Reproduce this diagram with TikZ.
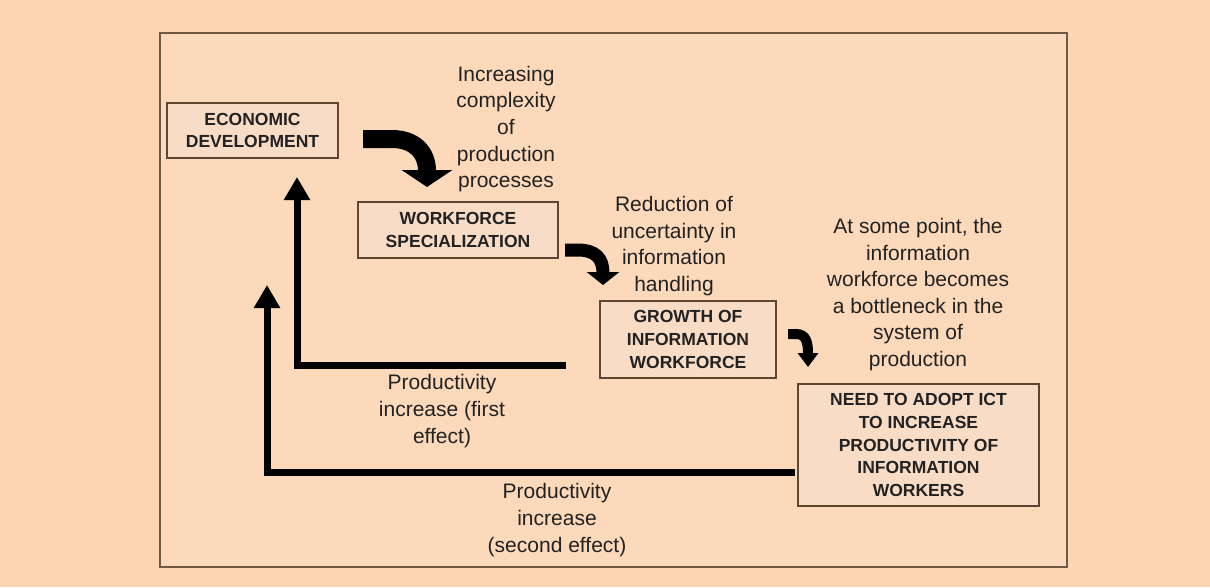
\documentclass[tikz,border=0pt]{standalone}
\usepackage{fontspec}
\setmainfont{Liberation Sans}
\usetikzlibrary{arrows.meta}
\definecolor{bgpeach}{HTML}{FCD6B2}
\definecolor{innerpeach}{HTML}{FBD9BA}
\definecolor{boxfill}{HTML}{F9DCC6}
\definecolor{framebrown}{HTML}{6E5A44}
\definecolor{boxbrown}{HTML}{5E4732}
\definecolor{inkdark}{HTML}{222222}
\tikzset{
  stagebox/.style={draw=boxbrown, line width=1.8pt, fill=boxfill, align=center,
    text=inkdark, font=\bfseries\fontsize{17.5}{22.8}\selectfont, inner sep=0pt},
  note/.style={align=center, text=inkdark, font=\fontsize{21}{26.6}\selectfont, inner sep=0pt},
  loopline/.style={draw=black, line width=7pt, line cap=butt, line join=miter,
    -{Triangle[width=25pt,length=23pt]}},
}
\begin{document}
\begin{tikzpicture}[x=1pt,y=-1pt]
  \fill[bgpeach] (0,0) rectangle (1210,587);
  \useasboundingbox (0,0) rectangle (1210,587);
  % outer frame
  \draw[framebrown, line width=2pt, fill=innerpeach] (160,33) rectangle (1067,567);

  % stages
  \node[stagebox, minimum width=171pt, minimum height=55pt] (econ) at (252.5,130.5)
    {ECONOMIC\\DEVELOPMENT};
  \node[stagebox, minimum width=200pt, minimum height=56pt] (spec) at (458,230)
    {WORKFORCE\\SPECIALIZATION};
  \node[stagebox, minimum width=176pt, minimum height=77pt] (growth) at (688,339.5)
    {GROWTH OF\\INFORMATION\\WORKFORCE};
  \node[stagebox, minimum width=241pt, minimum height=122pt] (need) at (918.5,445)
    {NEED TO ADOPT ICT\\TO INCREASE\\PRODUCTIVITY OF\\INFORMATION\\WORKERS};

  % explanatory notes
  \node[note] (n1) at (506,129) {Increasing\\complexity\\of\\production\\processes};
  \node[note] (n2) at (674,246) {Reduction of\\uncertainty in\\information\\handling};
  \node[note] (n3) at (918,294.5) {At some point, the\\information\\workforce becomes\\a bottleneck in the\\system of\\production};
  \node[note] (n4) at (442,411) {Productivity\\increase (first\\effect)};
  \node[note] (n5) at (557,520) {Productivity\\increase\\(second effect)};

  % end points of the bent arrows
  \coordinate (a1s) at (363,139);
  \coordinate (a1e) at (427,187);
  \coordinate (a2s) at (565,250);
  \coordinate (a2e) at (603,285);
  \coordinate (a3s) at (788,334);
  \coordinate (a3e) at (808,367);
  % feedback loops
  \coordinate (f1s) at (566,365);
  \coordinate (f1e) at (297,177);
  \coordinate (f2s) at (795,472);
  \coordinate (f2e) at (267,285);

  \draw[black, line width=18pt, line cap=butt, -{Triangle[width=50pt,length=17pt]}]
    (a1s) -- ++(29,0) .. controls +(22,0) and (427,152) .. (a1e);
  \draw[black, line width=13pt, line cap=butt, -{Triangle[width=32pt,length=13pt]}]
    (a2s) -- ++(13,0) .. controls +(17,0) and (603,258) .. (a2e);
  \draw[black, line width=10pt, line cap=butt, -{Triangle[width=20pt,length=14pt]}]
    (a3s) -- ++(8,0) .. controls +(10,0) and (808,342) .. (a3e);

  \draw[loopline] (f1s) -| (f1e);
  \draw[loopline] (f2s) -| (f2e);
\end{tikzpicture}
\end{document}
